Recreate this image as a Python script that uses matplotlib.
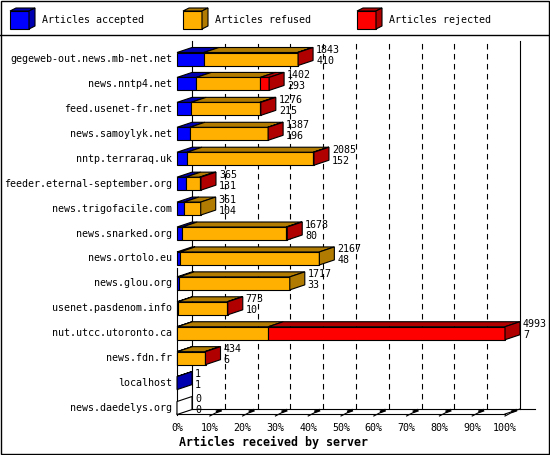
import matplotlib
matplotlib.use("Agg")
import matplotlib.pyplot as plt
from matplotlib.patches import Polygon, Rectangle

# data (total = accepted + refused + rejected)
servers = ["gegeweb-out.news.mb-net.net", "news.nntp4.net", "feed.usenet-fr.net",
           "news.samoylyk.net", "nntp.terraraq.uk", "feeder.eternal-september.org",
           "news.trigofacile.com", "news.snarked.org", "news.ortolo.eu", "news.glou.org",
           "usenet.pasdenom.info", "nut.utcc.utoronto.ca", "news.fdn.fr", "localhost",
           "news.daedelys.org"]
accepted = [410, 293, 215, 196, 152, 131, 104, 80, 48, 33, 10, 7, 6, 1, 0]
refused = [1425, 974, 1046, 1186, 1923, 214, 257, 1583, 2119, 1684, 753, 1383, 418, 0, 0]
rejected = [8, 135, 15, 5, 10, 20, 0, 15, 0, 0, 10, 3603, 10, 0, 0]
series_names = ["Articles accepted", "Articles refused", "Articles rejected"]
x_ticks = [0, 10, 20, 30, 40, 50, 60, 70, 80, 90, 100]
x_tick_labels = ["%d%%" % t for t in x_ticks]
x_title = "Articles received by server"

front_colors = ["#0000ff", "#ffb000", "#ff0000"]
dark_colors = ["#0000b0", "#b07b00", "#b00000"]

plt.rcParams['font.family'] = ['DejaVu Sans Mono']
FS = 7.2

W, H = 550, 455
fig = plt.figure(figsize=(W / 100, H / 100), dpi=100)

# overlay in pixel coords for border and legend
frame = fig.add_axes([0, 0, 1, 1])
frame.set_xlim(0, W)
frame.set_ylim(H, 0)
frame.axis('off')
frame.add_patch(Rectangle((0.5, 0.5), W - 1.5, H - 1.5, fill=False, lw=1, ec='black'))
frame.plot([0, W], [34.5, 34.5], color='black', lw=1)

leg_x = [10, 183, 357]
for k, name in enumerate(series_names):
    lx = leg_x[k]
    frame.add_patch(Rectangle((lx, 11), 19, 18, fc=front_colors[k], ec='black', lw=0.8))
    frame.add_patch(Polygon([(lx, 11), (lx + 19, 11), (lx + 25, 8), (lx + 6, 8)],
                            fc=dark_colors[k], ec='black', lw=0.8))
    frame.add_patch(Polygon([(lx + 19, 11), (lx + 19, 29), (lx + 25, 26), (lx + 25, 8)],
                            fc=dark_colors[k], ec='black', lw=0.8))
    frame.text(lx + 32, 20, name, fontsize=FS, ha='left', va='center')

# main plot area: front plane in pixels
x0_px, x1_px = 177, 505
top_px, floor_px = 48, 414
row0_px, row_step = 59, 24.93
ax = fig.add_axes([x0_px / W, 1 - floor_px / H, (x1_px - x0_px) / W, (floor_px - top_px) / H])
ax.axis('off')
ax.set_xlim(0, 100)
ax.set_ylim((floor_px - row0_px) / row_step, (top_px - row0_px) / row_step)

px = 100 / (x1_px - x0_px)   # percent per pixel
py = 1 / row_step            # row units per pixel
DX, DY = 15 * px, -5 * py
half = 6.5 * py
floor = (floor_px - row0_px) / row_step
wall_top = (46 - row0_px) / row_step

line_kw = dict(color='black', lw=0.8, clip_on=False)

# back wall grid
for t in x_ticks[1:-1]:
    ax.plot([t + DX, t + DX], [floor + DY, wall_top + DY], ls=(0, (5, 4)), zorder=1, **line_kw)
ax.plot([DX, DX], [floor + DY, wall_top + DY], zorder=1, **line_kw)
ax.plot([100 + DX, 100 + DX], [floor + DY, wall_top + DY], zorder=1, **line_kw)

# floor
ax.plot([0, 100], [floor, floor], zorder=1, **line_kw)
ax.plot([DX, 100 + 2 * DX], [floor + DY, floor + DY], zorder=1, **line_kw)
ax.plot([0, DX], [floor, floor + DY], zorder=1, **line_kw)
ax.plot([100, 100 + DX], [floor, floor + DY], zorder=1, **line_kw)
ax.plot([0, 0], [(268 - row0_px) / row_step, floor], zorder=1, **line_kw)
for t in x_ticks[1:]:
    ax.plot([t, t + DX * 0.7], [floor + 2 * py, floor + DY * 0.7], zorder=1, **line_kw)
    ax.plot([t + DX * 0.5, t + DX * 0.7], [floor + DY * 0.5, floor + DY * 0.7],
            color='black', lw=2, clip_on=False, zorder=1)

# bars
totals = [a + r + j for a, r, j in zip(accepted, refused, rejected)]
max_total = max(totals)
for i, name in enumerate(servers):
    vals = [accepted[i], refused[i], rejected[i]]
    yt, yb = i - half, i + half
    left = 0
    last = None
    for k, v in enumerate(vals):
        if v == 0:
            continue
        w = v / max_total * 100
        ax.add_patch(Rectangle((left, yt), w, 2 * half, fc=front_colors[k], ec='black',
                               lw=0.8, zorder=3, clip_on=False))
        ax.add_patch(Polygon([(left, yt), (left + w, yt), (left + w + DX, yt + DY), (left + DX, yt + DY)],
                             fc=dark_colors[k], ec='black', lw=0.8, zorder=3, clip_on=False))
        left += w
        last = k
    if last is None:
        ax.plot([0, 0], [yt, yb], zorder=3, **line_kw)
        side_c = 'white'
    else:
        side_c = dark_colors[last]
    ax.add_patch(Polygon([(left, yt), (left, yb), (left + DX, yb + DY), (left + DX, yt + DY)],
                         fc=side_c, ec='black', lw=0.8, zorder=3, clip_on=False))
    ax.text(left + DX + 3 * px, i - 9 * py, str(totals[i]), fontsize=FS, ha='left', va='center')
    ax.text(left + DX + 3 * px, i + 2 * py, str(accepted[i]), fontsize=FS, ha='left', va='center')
    ax.text(-5 * px, i, name, fontsize=FS, ha='right', va='center')

for t, lab in zip(x_ticks, x_tick_labels):
    ax.text(t, floor + 14 * py, lab, fontsize=FS, ha='center', va='center')
ax.text(2 * px, floor + 28 * py, x_title, fontsize=8.4, fontweight='bold', ha='left', va='center')

fig.savefig("out.png", dpi=100)
